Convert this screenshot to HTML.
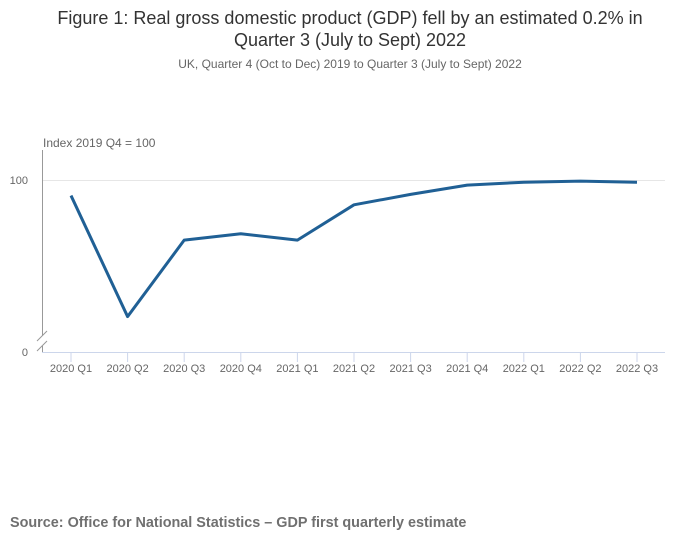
<!DOCTYPE html>
<html><head><meta charset="utf-8"><style>
body{margin:0;width:700px;height:549px;background:#fff;font-family:"Liberation Sans",sans-serif;overflow:hidden}
</style></head><body>
<svg width="700" height="549" xmlns="http://www.w3.org/2000/svg" font-family="Liberation Sans, sans-serif">
<text x="350" y="24" text-anchor="middle" font-size="18" fill="#333">Figure 1: Real gross domestic product (GDP) fell by an estimated 0.2% in</text>
<text x="350" y="46" text-anchor="middle" font-size="18" fill="#333">Quarter 3 (July to Sept) 2022</text>
<text x="350" y="68" text-anchor="middle" font-size="12" fill="#666">UK, Quarter 4 (Oct to Dec) 2019 to Quarter 3 (July to Sept) 2022</text>
<text x="43" y="147" font-size="12" fill="#666">Index 2019 Q4 = 100</text>
<line x1="42" y1="180.5" x2="665" y2="180.5" stroke="#e6e6e6"/>
<line x1="42.5" y1="150" x2="42.5" y2="336" stroke="#999"/>
<path d="M37 341 L47 331 M37 351 L47 341" stroke="#999" fill="none"/>
<line x1="42.5" y1="346" x2="42.5" y2="352" stroke="#999"/>
<line x1="42" y1="352.5" x2="665" y2="352.5" stroke="#ccd6eb"/>
<text x="28" y="184" text-anchor="end" font-size="11" fill="#666">100</text>
<text x="28" y="356" text-anchor="end" font-size="11" fill="#666">0</text>
<g id="xaxis"></g>
<path id="line" fill="none" stroke="#206095" stroke-width="3" stroke-linejoin="round"/>
<text x="10" y="527" font-size="14.4" font-weight="bold" fill="#707070">Source: Office for National Statistics – GDP first quarterly estimate</text>
</svg>
<script>
const categories=["2020 Q1","2020 Q2","2020 Q3","2020 Q4","2021 Q1","2021 Q2","2021 Q3","2021 Q4","2022 Q1","2022 Q2","2022 Q3"];
const values=[97.4,76.5,89.7,90.8,89.7,95.8,97.6,99.2,99.7,99.9,99.7];
const x=i=>71+i*56.6;
const y=v=>180.5+(100-v)*5.79;
const ns="http://www.w3.org/2000/svg";
const g=document.getElementById('xaxis');
categories.forEach((c,i)=>{
 const t=document.createElementNS(ns,'line');
 
 
 t.setAttribute('x1',x(i));t.setAttribute('x2',x(i));t.setAttribute('y1',352);t.setAttribute('y2',362);t.setAttribute('stroke','#ccd6eb');
 g.appendChild(t);
 const l=document.createElementNS(ns,'text');
 
 
 l.setAttribute('x',x(i));l.setAttribute('y',372);l.setAttribute('text-anchor','middle');l.setAttribute('font-size','11');l.setAttribute('fill','#666');
 l.textContent=c;g.appendChild(l);
});
document.getElementById('line').setAttribute('d',values.map((v,i)=>(i?'L':'M')+x(i)+' '+y(v)).join(' '));
</script>
</body></html>
